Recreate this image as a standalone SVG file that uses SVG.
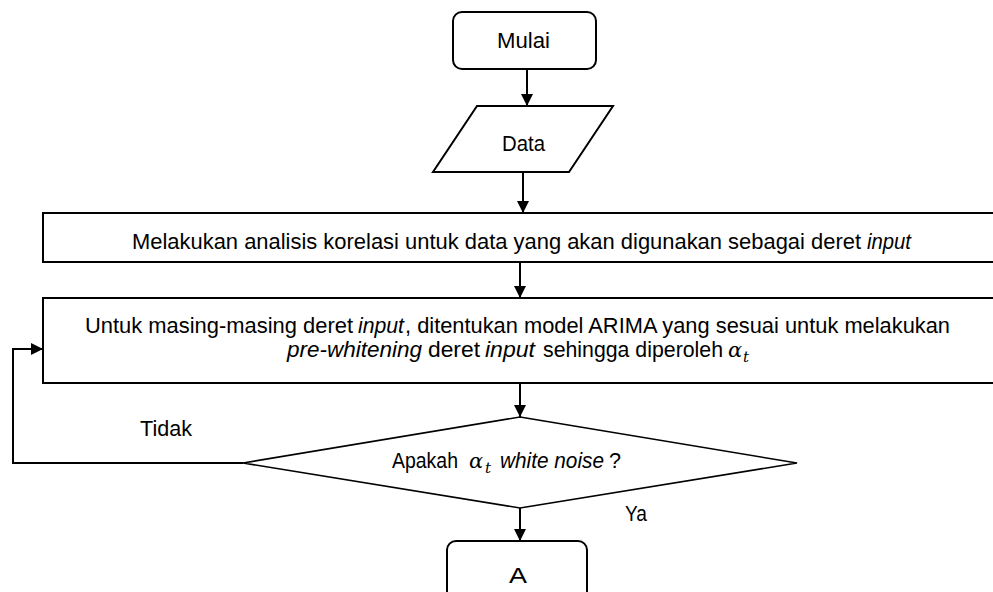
<svg xmlns="http://www.w3.org/2000/svg" width="993" height="592" viewBox="0 0 993 592">
<defs>
<marker id="ah" markerWidth="12" markerHeight="12" viewBox="0 0 12 12" refX="12" refY="6" orient="auto" markerUnits="userSpaceOnUse">
<path d="M0,0 L12,6 L0,12 Z" fill="#000"/>
</marker>
<style>
.shape{fill:#fff;stroke:#000;stroke-width:2}
.thin{fill:#fff;stroke:#000;stroke-width:1.6}
.t{font-family:"Liberation Sans",Arial,sans-serif;font-size:22px;fill:#000}
.i{font-style:italic}
.m{font-family:"DejaVu Serif","Liberation Serif",serif;font-style:italic;font-size:21px;fill:#000}
.ms{font-family:"DejaVu Serif","Liberation Serif",serif;font-style:italic;font-size:15px;fill:#000}
.c{fill:none;stroke:#000;stroke-width:2}
</style>
</defs>
<rect width="993" height="592" fill="#fff"/>
<g id="connectors">
<line class="c" x1="527" y1="69" x2="527" y2="106" marker-end="url(#ah)"/>
<line class="c" x1="523" y1="172" x2="523" y2="213" marker-end="url(#ah)"/>
<line class="c" x1="520" y1="262" x2="520" y2="298" marker-end="url(#ah)"/>
<line class="c" x1="520" y1="383" x2="520" y2="417" marker-end="url(#ah)"/>
<line class="c" x1="520" y1="508" x2="520" y2="541" marker-end="url(#ah)"/>
<polyline class="c" points="243,463 13,463 13,349 43,349" marker-end="url(#ah)"/>
<text class="t" x="140" y="436" textLength="52" lengthAdjust="spacingAndGlyphs">Tidak</text>
<text class="t" x="625" y="521" textLength="22" lengthAdjust="spacingAndGlyphs">Ya</text>
</g>
<g id="mulai">
<rect class="shape" x="453" y="12" width="143" height="57" rx="9"/>
<text class="t" x="497" y="48" textLength="53" lengthAdjust="spacingAndGlyphs">Mulai</text>
</g>
<g id="data">
<polygon class="shape" points="477,106 613,106 569,172 433,172"/>
<text class="t" x="502" y="151" textLength="43" lengthAdjust="spacingAndGlyphs">Data</text>
</g>
<g id="korelasi">
<rect class="shape" x="43" y="213" width="960" height="49"/>
<text class="t" x="132" y="249" textLength="729" lengthAdjust="spacingAndGlyphs">Melakukan analisis korelasi untuk data yang akan digunakan sebagai deret</text>
<text class="t i" x="867" y="249" textLength="44" lengthAdjust="spacingAndGlyphs">input</text>
</g>
<g id="arima">
<rect class="shape" x="43" y="298" width="960" height="85"/>
<text class="t" x="85" y="333" textLength="268" lengthAdjust="spacingAndGlyphs">Untuk masing-masing deret</text>
<text class="t i" x="358" y="333" textLength="46" lengthAdjust="spacingAndGlyphs">input</text>
<text class="t" x="405" y="333" textLength="545" lengthAdjust="spacingAndGlyphs">, ditentukan model ARIMA yang sesuai untuk melakukan</text>
<text class="t i" x="287" y="357" textLength="135" lengthAdjust="spacingAndGlyphs">pre-whitening</text>
<text class="t" x="428" y="357" textLength="52" lengthAdjust="spacingAndGlyphs">deret</text>
<text class="t i" x="485" y="357" textLength="50" lengthAdjust="spacingAndGlyphs">input</text>
<text class="t" x="543" y="357" textLength="180" lengthAdjust="spacingAndGlyphs">sehingga diperoleh</text>
<text class="m" x="728" y="357">α</text>
<text class="ms" x="743" y="362">t</text>
</g>
<g id="keputusan">
<polygon class="thin" points="520,417 797,463 520,508 243,463"/>
<text class="t" x="392" y="468" textLength="66" lengthAdjust="spacingAndGlyphs">Apakah</text>
<text class="m" x="469" y="468">α</text>
<text class="ms" x="485" y="473">t</text>
<text class="t i" x="500" y="468" textLength="104" lengthAdjust="spacingAndGlyphs">white noise</text>
<text class="t" x="609" y="468" textLength="12" lengthAdjust="spacingAndGlyphs">?</text>
</g>
<g id="a">
<rect class="shape" x="447" y="541" width="140" height="70" rx="9"/>
<text class="t" x="509" y="583" textLength="18" lengthAdjust="spacingAndGlyphs">A</text>
</g>
</svg>
